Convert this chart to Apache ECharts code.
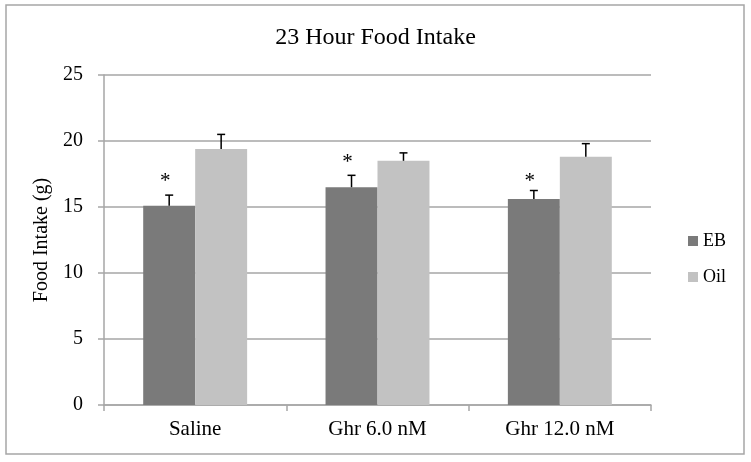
<!DOCTYPE html>
<html><head><meta charset="utf-8">
<script src="https://cdn.jsdelivr.net/npm/echarts@6/dist/echarts.min.js"></script>
<style>html,body{margin:0;padding:0;background:#fff}#c{width:751px;height:462px}</style>
</head><body><div id="c"></div>
<script>
const categories = ['Saline', 'Ghr 6.0 nM', 'Ghr 12.0 nM'];
const ebValues = [15.1, 16.5, 15.6];
const ebErrors = [0.8, 0.9, 0.65];
const oilValues = [19.4, 18.5, 18.8];
const oilErrors = [1.1, 0.6, 1.0];
const starLevels = [17.05, 18.5, 17.05];
const yTicks = [0, 5, 10, 15, 20, 25];

const FONT = '"Liberation Serif", serif';
const GAP = 0.43;

function errorSeries(values, errors, side, withStar) {
  return {
    type: 'custom',
    silent: true,
    z: 5,
    data: values.map((v, i) => [i, v, v + errors[i], starLevels[i]]),
    renderItem: function (params, api) {
      const i = api.value(0);
      const catW = api.size([1, 0])[0];
      const bw = catW * (1 - GAP) / 2;
      const base = api.coord([i, api.value(1)]);
      const top = api.coord([i, api.value(2)]);
      const x = base[0] + side * bw / 2;
      const children = [
        { type: 'line', shape: { x1: x, y1: base[1], x2: x, y2: top[1] }, style: { stroke: '#000', lineWidth: 1.5 } },
        { type: 'line', shape: { x1: x - 4, y1: top[1], x2: x + 4, y2: top[1] }, style: { stroke: '#000', lineWidth: 1.5 } }
      ];
      if (withStar) {
        const s = api.coord([i, api.value(3)]);
        children.push({ type: 'text', x: x - 4, y: s[1] + 2, style: { text: '*', font: '21px ' + FONT, fill: '#000', align: 'center', verticalAlign: 'middle' } });
      }
      return { type: 'group', children: children };
    }
  };
}

const chart = echarts.init(document.getElementById('c'));
chart.setOption({
  animation: false,
  title: { text: '23 Hour Food Intake', left: 'center', top: 21, textStyle: { fontFamily: FONT, fontSize: 24, fontWeight: 'normal', color: '#000' } },
  legend: {
    orient: 'vertical', left: 683, top: 227, itemWidth: 10, itemHeight: 10, itemGap: 18, icon: 'rect',
    textStyle: { fontFamily: FONT, fontSize: 18, color: '#000' },
    data: ['EB', 'Oil']
  },
  graphic: [{ type: 'rect', shape: { x: 6, y: 5, width: 738, height: 449 }, style: { fill: 'none', stroke: '#a6a6a6', lineWidth: 1.5 }, silent: true }],
  grid: { left: 104, right: 100, top: 75, bottom: 57 },
  xAxis: {
    type: 'category', data: categories,
    axisLine: { lineStyle: { color: '#a6a6a6', width: 1.5 } },
    axisTick: { show: true, length: 6, lineStyle: { color: '#a6a6a6', width: 1.5 } },
    axisLabel: { fontFamily: FONT, fontSize: 21, color: '#000', margin: 14 }
  },
  yAxis: {
    type: 'value', min: yTicks[0], max: yTicks[yTicks.length - 1], interval: 5,
    name: 'Food Intake (g)', nameLocation: 'middle', nameGap: 43,
    nameTextStyle: { fontFamily: FONT, fontSize: 20, color: '#000' },
    axisLine: { show: true, lineStyle: { color: '#a6a6a6', width: 1.5 } },
    axisTick: { show: true, length: 6, lineStyle: { color: '#a6a6a6', width: 1.5 } },
    axisLabel: { fontFamily: FONT, fontSize: 20, color: '#000', margin: 21 },
    splitLine: { lineStyle: { color: '#a6a6a6', width: 1.5 } }
  },
  series: [
    { name: 'EB', type: 'bar', data: ebValues, itemStyle: { color: '#7a7a7a' }, barGap: '0%', barCategoryGap: (GAP * 100) + '%' },
    { name: 'Oil', type: 'bar', data: oilValues, itemStyle: { color: '#c2c2c2' }, barGap: '0%', barCategoryGap: (GAP * 100) + '%' },
    errorSeries(ebValues, ebErrors, -1, true),
    errorSeries(oilValues, oilErrors, 1, false)
  ]
});
</script></body></html>
